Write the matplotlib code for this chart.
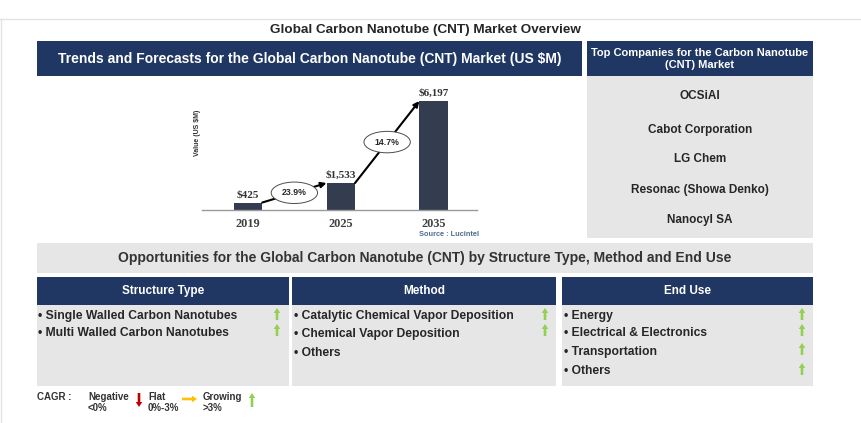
import matplotlib
matplotlib.use("Agg")
import matplotlib.pyplot as plt
from matplotlib.patches import Rectangle, Ellipse, FancyArrow

plt.rcParams['font.family'] = ['Liberation Sans', 'DejaVu Sans']

# ---------------- data ----------------
years = ["2019", "2025", "2035"]
values = [425, 1533, 6197]
value_labels = ["$425", "$1,533", "$6,197"]
cagr_labels = ["23.9%", "14.7%"]

companies = ["OCSiAl", "Cabot Corporation", "LG Chem", "Resonac (Showa Denko)", "Nanocyl SA"]

col_titles = ["Structure Type", "Method", "End Use"]
structure_items = ["Single Walled Carbon Nanotubes", "Multi Walled Carbon Nanotubes"]
structure_trend = ["up", "up"]
method_items = ["Catalytic Chemical Vapor Deposition", "Chemical Vapor Deposition", "Others"]
method_trend = ["up", "up", None]
enduse_items = ["Energy", "Electrical & Electronics", "Transportation", "Others"]
enduse_trend = ["up", "up", "up", "up"]

NAVY = "#203764"
GRAY = "#e6e6e6"
BAR = "#333d4f"
GREEN = "#92d050"
RED = "#c00000"
YELLOW = "#ffc000"
TXT = "#262626"

W, H = 861, 423
fig = plt.figure(figsize=(W / 100, H / 100), dpi=100)
bg = fig.add_axes([0, 0, 1, 1])
bg.set_xlim(0, W)
bg.set_ylim(H, 0)
bg.axis("off")


def rect(x0, y0, x1, y1, color):
    bg.add_patch(Rectangle((x0, y0), x1 - x0, y1 - y0, facecolor=color, edgecolor="none", zorder=1))


def up_arrow(x, ytop, ybot, color=GREEN):
    bg.add_patch(FancyArrow(x, ybot, 0, -(ybot - ytop), width=2.6, head_width=6.5,
                            head_length=5, length_includes_head=True, color=color, lw=0, zorder=3))


# outer frame
bg.plot([0, W], [19, 19], color="#e3e3e3", lw=1, zorder=0)
bg.plot([1, 1], [19, H], color="#e3e3e3", lw=1, zorder=0)

# main title
bg.text(425, 30, "Global Carbon Nanotube (CNT) Market Overview", ha="center", va="center",
        fontsize=9.7, fontweight="bold", color=TXT)

# top-left header
rect(37, 41, 582, 76, NAVY)
bg.text(310, 58.5, "Trends and Forecasts for the Global Carbon Nanotube (CNT) Market (US $M)",
        ha="center", va="center", fontsize=10, fontweight="bold", color="white")

# top-right companies panel
rect(587, 41, 813, 76, NAVY)
bg.text(700, 59, "Top Companies for the Carbon Nanotube\n(CNT) Market", ha="center", va="center",
        fontsize=8, fontweight="bold", color="white", linespacing=1.3)
rect(587, 76, 813, 238, GRAY)
for name, y in zip(companies, [96, 130, 159, 190, 220]):
    bg.text(700, y, name, ha="center", va="center", fontsize=8.5, fontweight="bold", color=TXT)

# opportunities banner
rect(37, 243, 813, 273, GRAY)
bg.text(425, 258, "Opportunities for the Global Carbon Nanotube (CNT) by Structure Type, Method and End Use",
        ha="center", va="center", fontsize=10, fontweight="bold", color="#333333")

cols = [(37, 289), (292, 556), (562, 813)]
items_all = [structure_items, method_items, enduse_items]
trends_all = [structure_trend, method_trend, enduse_trend]
arrow_x = [277, 545, 802]
item_y = [316.5, 333.5, 352.5, 371.5]
arrow_spans = [(308, 320), (324, 336), (343, 355), (363, 375)]
for (x0, x1), title, items, trends, ax_x in zip(cols, col_titles, items_all, trends_all, arrow_x):
    rect(x0, 277, x1, 305, NAVY)
    bg.text((x0 + x1) / 2, 291, title, ha="center", va="center", fontsize=8.5,
            fontweight="bold", color="white")
    rect(x0, 305, x1, 386, GRAY)
    for i, (it, tr) in enumerate(zip(items, trends)):
        bg.text(x0 + 1.5, item_y[i], "\u2022 " + it, ha="left", va="center", fontsize=8.7,
                fontweight="bold", color=TXT)
        if tr == "up":
            up_arrow(ax_x, arrow_spans[i][0], arrow_spans[i][1])

# CAGR legend
lg = dict(fontsize=7, fontweight="bold", color="#333333", va="center", ha="left")
bg.text(37, 397, "CAGR :", **lg)
bg.text(88, 397, "Negative", **lg)
bg.text(88, 408, "<0%", **lg)
bg.add_patch(FancyArrow(139, 393, 0, 14, width=2.6, head_width=6.5, head_length=5,
                        length_includes_head=True, color=RED, lw=0, zorder=3))
bg.text(148, 397, "Flat", **lg)
bg.text(148, 408, "0%-3%", **lg)
bg.add_patch(FancyArrow(182, 399, 15, 0, width=2.6, head_width=6.5, head_length=5,
                        length_includes_head=True, color=YELLOW, lw=0, zorder=3))
bg.text(203, 397, "Growing", **lg)
bg.text(203, 408, ">3%", **lg)
up_arrow(252, 393, 407)

# ---------------- bar chart ----------------
ax = fig.add_axes([202 / W, (H - 210) / H, 275 / W, 120 / H])
ax.patch.set_alpha(0)
x = list(range(len(years)))
bw = 0.307
ax.bar(x, values, width=bw, color=BAR, zorder=2)
ax.set_xlim(-0.496, 2.469)
ax.set_ylim(0, 6828)
for s in ["top", "right", "left"]:
    ax.spines[s].set_visible(False)
ax.spines["bottom"].set_color("#9a9a9a")
ax.spines["bottom"].set_linewidth(1)
ax.set_yticks([])
ax.set_xticks(x)
ax.set_xticklabels(years, fontfamily="Liberation Serif", fontweight="bold", fontsize=8.8, color="#404040")
ax.tick_params(axis="x", length=0, pad=6)
for xi, v, lab in zip(x, values, value_labels):
    ax.text(xi, v + 170, lab, ha="center", va="bottom", fontfamily="Liberation Serif",
            fontweight="bold", fontsize=8, color="#333333")

for i, lab in enumerate(cagr_labels):
    x0, y0 = x[i] + bw / 2, values[i]
    x1, y1 = x[i + 1] - bw / 2, values[i + 1]
    ax.annotate("", xy=(x1, y1), xytext=(x0, y0),
                arrowprops=dict(arrowstyle="-|>", color="black", lw=1.5, mutation_scale=8,
                                shrinkA=0, shrinkB=0), zorder=3)
    cx, cy = (x0 + x1) / 2, (y0 + y1) / 2
    ax.add_patch(Ellipse((cx, cy), 0.5, 1220, facecolor="white", edgecolor="#4d4d4d", lw=0.7, zorder=4))
    ax.text(cx, cy, lab, ha="center", va="center", fontsize=6.3, fontweight="bold", color=TXT, zorder=5)

ax.set_ylabel("Value (US $M)", fontsize=5, fontweight="bold", color="#333333")
ax.yaxis.set_label_coords(-0.005, 0.64)
fig.text(449 / W, (H - 234) / H, "Source : Lucintel", ha="center", va="center",
         fontsize=5.3, fontweight="bold", color="#4f6d8f")

fig.savefig("out.png", dpi=100)
